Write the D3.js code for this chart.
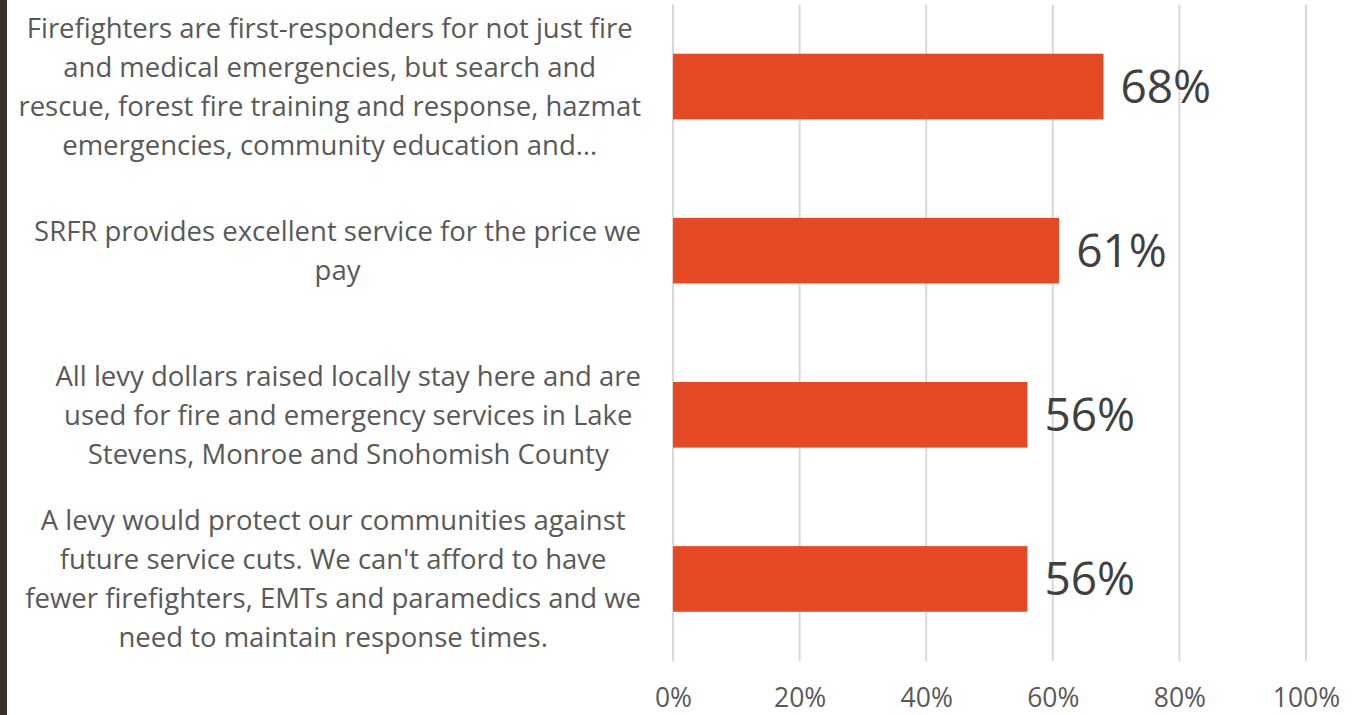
<!DOCTYPE html>
<html>
<head>
<meta charset="utf-8">
<script src="https://cdn.jsdelivr.net/npm/d3@7"></script>
<style>
  html, body { margin: 0; padding: 0; background: #ffffff; }
  svg { display: block; font-family: "Open Sans", "Noto Sans", sans-serif; }
</style>
</head>
<body>
<svg id="chart" width="1355" height="715"></svg>
<script>
// Survey statements (each entry holds the wrapped lines of one label)
const statements = [
  ["Firefighters are first-responders for not just fire",
   "and medical emergencies, but search and",
   "rescue, forest fire training and response, hazmat",
   "emergencies, community education and\u2026"],
  ["SRFR provides excellent service for the price we",
   "pay"],
  ["All levy dollars raised locally stay here and are",
   "used for fire and emergency services in Lake",
   "Stevens, Monroe and Snohomish County"],
  ["A levy would protect our communities against",
   "future service cuts. We can't afford to have",
   "fewer firefighters, EMTs and paramedics and we",
   "need to maintain response times."]
];
const categoryIds = ["first-responders", "excellent-service", "levy-stays-local", "protect-services"];
const agreeShare = [0.68, 0.61, 0.56, 0.56];
const tickValues = [0, 0.2, 0.4, 0.6, 0.8, 1.0];
const tickLabels = ["0%", "20%", "40%", "60%", "80%", "100%"];

const svg = d3.select("#chart");
const W = 1355, H = 715;
const plot = { left: 673, right: 1306, top: 4.5, bottom: 661 };

// Dark edge strip on the left side
svg.append("rect").attr("x", 0).attr("y", 0).attr("width", 7).attr("height", H)
  .attr("fill", "#3a302b");

const x = d3.scaleLinear().domain([0, 1]).range([plot.left, plot.right]);
const y = d3.scaleBand().domain(categoryIds).range([plot.top, plot.bottom])
  .paddingInner(0.6).paddingOuter(0.3);

// Vertical gridlines
svg.append("g").selectAll("line").data(tickValues).join("line")
  .attr("x1", d => x(d)).attr("x2", d => x(d))
  .attr("y1", plot.top).attr("y2", plot.bottom)
  .attr("stroke", "#d9d9d9").attr("stroke-width", 2);

// Bottom axis labels
const axis = d3.axisBottom(x).tickValues(tickValues)
  .tickFormat((d, i) => tickLabels[i]).tickSize(0).tickPadding(0);
const axisG = svg.append("g").attr("transform", `translate(0, ${plot.bottom})`).call(axis);
axisG.select(".domain").remove();
axisG.selectAll("text")
  .attr("y", 46).attr("dy", null)
  .attr("font-size", 26.5).attr("fill", "#595959")
  .attr("font-family", "'Open Sans', 'Noto Sans', sans-serif");

// Bars
const rows = categoryIds.map((id, i) => ({ id, value: agreeShare[i], lines: statements[i] }));
svg.append("g").selectAll("rect").data(rows).join("rect")
  .attr("x", x(0))
  .attr("y", d => y(d.id))
  .attr("width", d => x(d.value) - x(0))
  .attr("height", y.bandwidth())
  .attr("fill", "#e64a25");

// Value labels
svg.append("g").selectAll("text").data(rows).join("text")
  .attr("x", d => x(d.value) + 17)
  .attr("y", d => y(d.id) + y.bandwidth() / 2)
  .attr("dy", "0.36em")
  .attr("font-size", 46)
  .attr("fill", "#404040")
  .text(d => Math.round(d.value * 100) + "%");

// Category labels: block right-aligned, lines centred within the block
const labelRight = 641, lineHeight = 39, labelSize = 27.5;
rows.forEach(d => {
  const g = svg.append("g");
  const cy = y(d.id) + y.bandwidth() / 2;
  const n = d.lines.length;
  const texts = g.selectAll("text").data(d.lines).join("text")
    .attr("font-size", labelSize)
    .attr("fill", "#595959")
    .attr("text-anchor", "middle")
    .attr("y", (l, i) => cy + (i - (n - 1) / 2) * lineHeight)
    .attr("dy", "0.36em")
    .text(l => l);
  const maxW = d3.max(texts.nodes(), t => t.getComputedTextLength());
  texts.attr("x", labelRight - maxW / 2);
});
</script>
</body>
</html>
